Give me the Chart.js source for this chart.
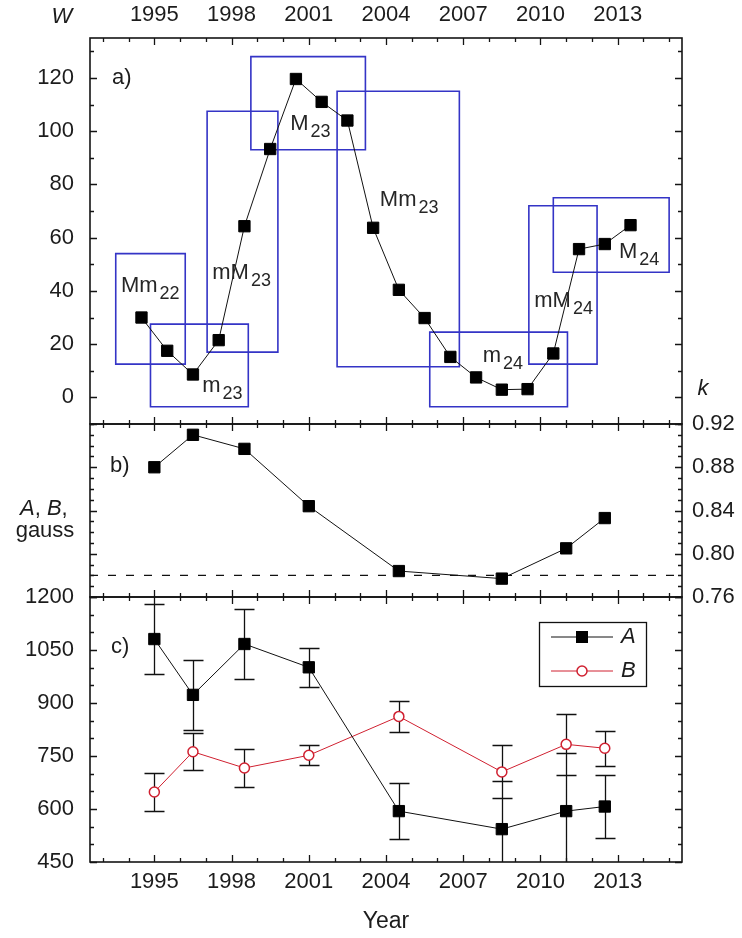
<!DOCTYPE html>
<html>
<head>
<meta charset="utf-8">
<script src="https://cdn.jsdelivr.net/npm/chart.js@4/dist/chart.umd.min.js"></script>
<style>
  html, body { margin: 0; padding: 0; background: #fff; }
  #wrap { position: relative; width: 742px; height: 938px; background: #fff; }
  #wrap canvas { position: absolute; left: 0; top: 0; }
</style>
</head>
<body>
<div id="wrap">
  <canvas id="chartW" width="742" height="938"></canvas>
  <canvas id="chartK" width="742" height="938"></canvas>
  <canvas id="chartAB" width="742" height="938"></canvas>
</div>
<script>
// ---- Yearly sunspot index W (plotted at mid-year) ----
const wYears  = [1994.5, 1995.5, 1996.5, 1997.5, 1998.5, 1999.5, 2000.5, 2001.5, 2002.5, 2003.5,
                 2004.5, 2005.5, 2006.5, 2007.5, 2008.5, 2009.5, 2010.5, 2011.5, 2012.5, 2013.5];
const wValues = [30.0, 17.5, 8.6, 21.5, 64.3, 93.3, 119.6, 111.0, 104.0, 63.7,
                 40.4, 29.8, 15.2, 7.5, 2.9, 3.1, 16.5, 55.7, 57.6, 64.7];

// ---- Cycle phase windows (years, W range) ----
const phaseNames  = ['Mm', 'm', 'mM', 'M', 'Mm', 'm', 'mM', 'M'];
const phaseCycles = ['22', '23', '23', '23', '23', '24', '24', '24'];
const phaseFrom   = [1993.5, 1994.85, 1997.05, 1998.75, 2002.1, 2005.7, 2009.55, 2010.5];
const phaseTo     = [1996.2, 1998.65, 1999.8, 2003.2, 2006.85, 2011.05, 2012.2, 2015.0];
const phaseLow    = [12.5, -3.5, 17, 93, 11.5, -3.5, 12.5, 47];
const phaseHigh   = [54, 27.5, 107.5, 128, 115, 24.5, 72, 75];
// where each phase name is written (year, W of the text baseline)
const phaseLabelYear = [1993.7, 1996.86, 1997.25, 2000.28, 2003.76, 2007.76, 2009.76, 2013.05];
const phaseLabelW    = [39.5, 2.1, 44.4, 100.5, 72.0, 13.4, 34.1, 52.5];

// ---- Observation epochs: k and the field coefficients A, B ----
const obsYears = [1995, 1996.5, 1998.5, 2001, 2004.5, 2008.5, 2011, 2012.5];
const kValues  = [0.880, 0.910, 0.897, 0.844, 0.784, 0.777, 0.805, 0.833];
const kLevel   = 0.78;
const aValues  = [1081, 923, 1067, 1001, 594, 543, 594, 607];
const aErrors  = [98, 100, 100, 55, 80, 136, 164, 88];
const bValues  = [648, 762, 716, 752, 862, 705, 783, 772];
const bErrors  = [55, 53, 53, 28, 43, 75, 87, 50];

// ---- Axis ranges and tick labels ----
const yearMin = 1992.5, yearMax = 2015.5;
const yearTicks = [1995, 1998, 2001, 2004, 2007, 2010, 2013];
const wMin = -10, wMax = 135;
const wTicks = [0, 20, 40, 60, 80, 100, 120];
const kMin = 0.76, kMax = 0.92;
const kTicks = [0.76, 0.80, 0.84, 0.88, 0.92];
const abMin = 450, abMax = 1200;
const abTicks = [450, 600, 750, 900, 1050, 1200];

const FONT = '"Liberation Sans", Arial, Helvetica, sans-serif';
const INK = '#1c1c1c';
const RED = '#d02030';
const BLUE = '#3434c6';
const SIZE = 22;

Chart.defaults.font.family = FONT;
Chart.defaults.font.size = SIZE;
Chart.defaults.color = INK;
Chart.defaults.animation = false;

const fixWidth = (w) => (scale) => { scale.width = w; };
const fixHeight = (h) => (scale) => { scale.height = h; };
const useTicks = (values) => (scale) => { scale.ticks = values.map(v => ({ value: v })); };

function writeText(ctx, str, x, y, opt = {}) {
  const size = opt.size || SIZE;
  ctx.font = (opt.italic ? 'italic ' : '') + size + 'px ' + FONT;
  ctx.fillStyle = opt.color || INK;
  ctx.textAlign = opt.align || 'left';
  ctx.textBaseline = opt.baseline || 'alphabetic';
  ctx.fillText(str, x, y);
}

// Box frame with inward major/minor ticks on all four sides
function frameTicks(minor, major, origin) {
  return {
    id: 'frameTicks',
    afterDatasetsDraw(chart) {
      const { ctx, chartArea: a } = chart;
      const xs = chart.scales.x, ys = chart.scales.y;
      const majorLen = 7, minorLen = 4;
      ctx.save();
      ctx.strokeStyle = '#141414';
      ctx.lineWidth = 1.3;
      ctx.beginPath();
      for (let yr = Math.ceil(xs.min); yr <= xs.max; yr++) {
        const len = ((yr - 1995) % 3 === 0) ? majorLen : minorLen;
        const p = Math.round(xs.getPixelForValue(yr)) + 0.5;
        ctx.moveTo(p, a.top); ctx.lineTo(p, a.top + len);
        ctx.moveTo(p, a.bottom); ctx.lineTo(p, a.bottom - len);
      }
      const ratio = Math.round(major / minor);
      const n0 = Math.ceil((ys.min - origin) / minor - 1e-6);
      const n1 = Math.floor((ys.max - origin) / minor + 1e-6);
      for (let n = n0; n <= n1; n++) {
        const v = origin + n * minor;
        const len = (((n % ratio) + ratio) % ratio === 0) ? majorLen : minorLen;
        const p = Math.round(ys.getPixelForValue(v)) + 0.5;
        ctx.moveTo(a.left, p); ctx.lineTo(a.left + len, p);
        ctx.moveTo(a.right, p); ctx.lineTo(a.right - len, p);
      }
      ctx.stroke();
      ctx.lineWidth = 1.6;
      ctx.strokeRect(a.left, a.top, a.right - a.left, a.bottom - a.top);
      ctx.restore();
    }
  };
}

const xAxisBase = {
  type: 'linear', min: yearMin, max: yearMax, bounds: 'data',
  grid: { display: false, drawTicks: false }, border: { display: false },
  afterBuildTicks: useTicks(yearTicks),
  ticks: { callback: v => String(v) }
};

// ================= a) sunspot index W =================
const phaseBoxes = phaseNames.map((nm, i) => ({
  label: nm + phaseCycles[i],
  data: [
    { x: phaseFrom[i], y: phaseLow[i] }, { x: phaseTo[i], y: phaseLow[i] },
    { x: phaseTo[i], y: phaseHigh[i] }, { x: phaseFrom[i], y: phaseHigh[i] },
    { x: phaseFrom[i], y: phaseLow[i] }
  ],
  showLine: true, borderColor: BLUE, borderWidth: 1.6, pointRadius: 0,
  borderJoinStyle: 'miter', borderCapStyle: 'square', tension: 0, fill: false
}));

const phaseLabels = {
  id: 'phaseLabels',
  afterDatasetsDraw(chart) {
    const { ctx, chartArea: a } = chart;
    const xs = chart.scales.x, ys = chart.scales.y;
    ctx.save();
    phaseNames.forEach((nm, i) => {
      const x = xs.getPixelForValue(phaseLabelYear[i]);
      const y = ys.getPixelForValue(phaseLabelW[i]);
      writeText(ctx, nm, x, y, { size: 22, color: '#262626' });
      const w = ctx.measureText(nm).width;
      writeText(ctx, phaseCycles[i], x + w + 2, y + 7, { size: 18, color: '#262626' });
    });
    writeText(ctx, 'a)', a.left + 22, a.top + 40, { baseline: 'middle' });
    writeText(ctx, 'W', a.left - 28, a.top - 21, { italic: true, align: 'center', baseline: 'middle' });
    ctx.restore();
  }
};

new Chart(document.getElementById('chartW'), {
  type: 'scatter',
  data: {
    datasets: [{
      label: 'W',
      data: wYears.map((x, i) => ({ x, y: wValues[i] })),
      showLine: true, borderColor: '#111', borderWidth: 1, tension: 0,
      pointStyle: 'rect', pointRadius: 8, pointBackgroundColor: '#000',
      pointBorderColor: '#000', pointBorderWidth: 1
    }, ...phaseBoxes]
  },
  options: {
    responsive: false, devicePixelRatio: 1, events: [],
    layout: { padding: { left: 0, right: 60, top: 0, bottom: 514 } },
    plugins: { legend: { display: false }, tooltip: { enabled: false } },
    scales: {
      x: Object.assign({}, xAxisBase, { position: 'top', afterFit: fixHeight(38),
        ticks: { callback: v => String(v), padding: 10, maxRotation: 0 } }),
      y: {
        type: 'linear', position: 'left', min: wMin, max: wMax, bounds: 'data',
        grid: { display: false, drawTicks: false }, border: { display: false },
        afterBuildTicks: useTicks(wTicks), afterFit: fixWidth(90),
        ticks: { callback: v => String(v), padding: 16 }
      }
    }
  },
  plugins: [frameTicks(10, 20, 0), phaseLabels]
});

// ================= b) coefficient k =================
const panelB = {
  id: 'panelB',
  afterDatasetsDraw(chart) {
    const { ctx, chartArea: a } = chart;
    ctx.save();
    writeText(ctx, 'b)', a.left + 20, a.top + 42, { baseline: 'middle' });
    writeText(ctx, 'k', a.right + 21, a.top - 35, { italic: true, align: 'center', baseline: 'middle' });
    const base = a.top + 91;
    let x = a.left - 70;
    writeText(ctx, 'A', x, base, { italic: true });
    x += ctx.measureText('A').width;
    writeText(ctx, ', ', x, base);
    x += ctx.measureText(', ').width;
    writeText(ctx, 'B', x, base, { italic: true });
    x += ctx.measureText('B').width;
    writeText(ctx, ',', x, base);
    writeText(ctx, 'gauss', a.left - 45, a.top + 113, { align: 'center' });
    ctx.restore();
  }
};

new Chart(document.getElementById('chartK'), {
  type: 'scatter',
  data: {
    datasets: [{
      label: 'k',
      data: obsYears.map((x, i) => ({ x, y: kValues[i] })),
      showLine: true, borderColor: '#111', borderWidth: 1, tension: 0,
      pointStyle: 'rect', pointRadius: 8, pointBackgroundColor: '#000',
      pointBorderColor: '#000', pointBorderWidth: 1
    }, {
      label: 'k level',
      data: [{ x: yearMin, y: kLevel }, { x: yearMax, y: kLevel }],
      showLine: true, borderColor: '#111', borderWidth: 1.3, borderDash: [8, 10],
      pointRadius: 0, tension: 0
    }]
  },
  options: {
    responsive: false, devicePixelRatio: 1, events: [],
    layout: { padding: { left: 90, right: 0, top: 424, bottom: 341 } },
    plugins: { legend: { display: false }, tooltip: { enabled: false } },
    scales: {
      x: Object.assign({}, xAxisBase, { display: false }),
      y: {
        type: 'linear', position: 'right', min: kMin, max: kMax, bounds: 'data',
        grid: { display: false, drawTicks: false }, border: { display: false },
        afterBuildTicks: useTicks(kTicks), afterFit: fixWidth(60),
        ticks: { callback: v => v.toFixed(2), padding: 10 }
      }
    }
  },
  plugins: [frameTicks(0.01, 0.04, 0.76), panelB]
});

// ================= c) coefficients A and B =================
const errorBars = {
  id: 'errorBars',
  beforeDatasetsDraw(chart) {
    const { ctx, chartArea: a } = chart;
    const xs = chart.scales.x, ys = chart.scales.y;
    ctx.save();
    ctx.beginPath();
    ctx.rect(a.left, a.top, a.right - a.left, a.bottom - a.top);
    ctx.clip();
    ctx.strokeStyle = '#111';
    ctx.lineWidth = 1.3;
    ctx.beginPath();
    chart.data.datasets.forEach(ds => {
      if (!ds.errorBars) return;
      ds.data.forEach((pt, i) => {
        const e = ds.errorBars[i];
        const x = Math.round(xs.getPixelForValue(pt.x)) + 0.5;
        const yt = Math.round(ys.getPixelForValue(pt.y + e)) + 0.5;
        const yb = Math.round(ys.getPixelForValue(pt.y - e)) + 0.5;
        ctx.moveTo(x, yt); ctx.lineTo(x, yb);
        ctx.moveTo(x - 10, yt); ctx.lineTo(x + 10, yt);
        ctx.moveTo(x - 10, yb); ctx.lineTo(x + 10, yb);
      });
    });
    ctx.stroke();
    ctx.restore();
  }
};

const panelC = {
  id: 'panelC',
  afterDatasetsDraw(chart) {
    const { ctx, chartArea: a } = chart;
    ctx.save();
    writeText(ctx, 'c)', a.left + 21, a.top + 50, { baseline: 'middle' });
    // legend
    const bx = a.left + 449, by = a.top + 25, bw = 107, bh = 64;
    ctx.fillStyle = '#fff';
    ctx.fillRect(bx, by, bw, bh);
    ctx.strokeStyle = '#111';
    ctx.lineWidth = 1.3;
    ctx.strokeRect(bx + 0.5, by + 0.5, bw, bh);
    const rows = [
      { y: by + 15, color: '#111', name: 'A', square: true },
      { y: by + 49, color: RED, name: 'B', square: false }
    ];
    rows.forEach(r => {
      ctx.strokeStyle = r.color;
      ctx.lineWidth = 1;
      ctx.beginPath();
      ctx.moveTo(bx + 12, r.y); ctx.lineTo(bx + 74, r.y);
      ctx.stroke();
      const mx = bx + 43;
      if (r.square) {
        ctx.fillStyle = '#000';
        ctx.fillRect(mx - 6, r.y - 6, 12, 12);
      } else {
        ctx.fillStyle = '#fff';
        ctx.lineWidth = 1.5;
        ctx.beginPath();
        ctx.arc(mx, r.y, 5, 0, Math.PI * 2);
        ctx.fill();
        ctx.stroke();
      }
      writeText(ctx, r.name, bx + 82, r.y, { italic: true, baseline: 'middle' });
    });
    ctx.restore();
  }
};

new Chart(document.getElementById('chartAB'), {
  type: 'scatter',
  data: {
    datasets: [{
      label: 'A',
      data: obsYears.map((x, i) => ({ x, y: aValues[i] })),
      errorBars: aErrors,
      showLine: true, borderColor: '#111', borderWidth: 1, tension: 0,
      pointStyle: 'rect', pointRadius: 8, pointBackgroundColor: '#000',
      pointBorderColor: '#000', pointBorderWidth: 1
    }, {
      label: 'B',
      data: obsYears.map((x, i) => ({ x, y: bValues[i] })),
      errorBars: bErrors,
      showLine: true, borderColor: RED, borderWidth: 1, tension: 0,
      pointStyle: 'circle', pointRadius: 5, pointBackgroundColor: '#fff',
      pointBorderColor: RED, pointBorderWidth: 1.5
    }]
  },
  options: {
    responsive: false, devicePixelRatio: 1, events: [],
    layout: { padding: { left: 0, right: 60, top: 597, bottom: 0 } },
    plugins: { legend: { display: false }, tooltip: { enabled: false } },
    scales: {
      x: Object.assign({}, xAxisBase, {
        position: 'bottom', afterFit: fixHeight(76),
        ticks: { callback: v => String(v), padding: 7, maxRotation: 0 },
        title: { display: true, text: 'Year', font: { size: 23 }, padding: { top: 0, bottom: 3 } }
      }),
      y: {
        type: 'linear', position: 'left', min: abMin, max: abMax, bounds: 'data',
        grid: { display: false, drawTicks: false }, border: { display: false },
        afterBuildTicks: useTicks(abTicks), afterFit: fixWidth(90),
        ticks: { callback: v => String(v), padding: 16 }
      }
    }
  },
  plugins: [frameTicks(50, 150, 450), errorBars, panelC]
});
</script>
</body>
</html>
